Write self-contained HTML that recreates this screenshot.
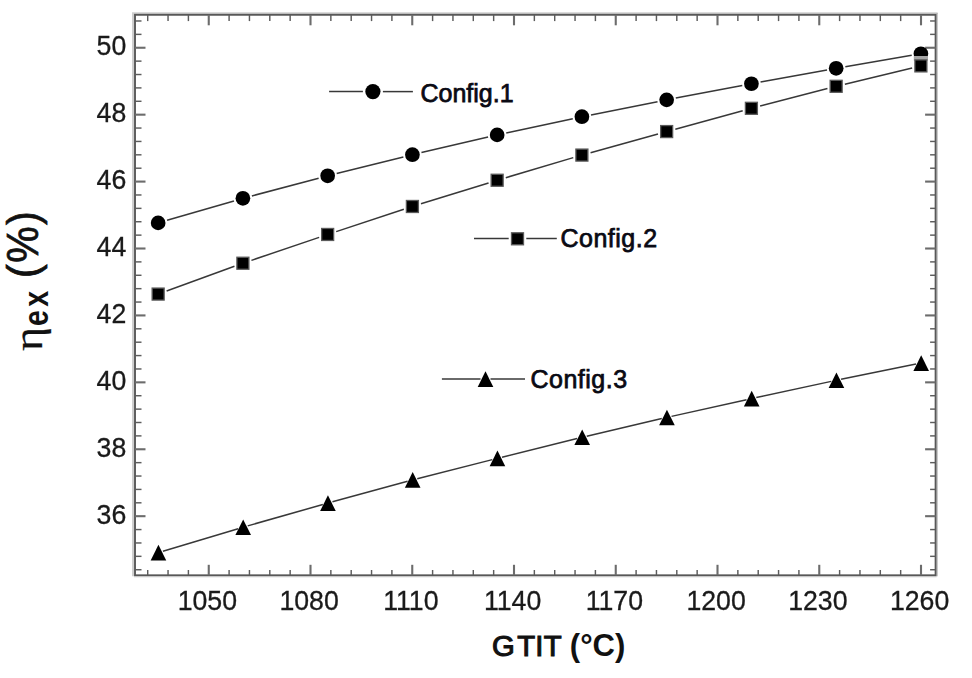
<!DOCTYPE html>
<html><head><meta charset="utf-8"><title>chart</title>
<style>
html,body{margin:0;padding:0;background:#fff;}
body{width:972px;height:678px;position:relative;overflow:hidden;font-family:"Liberation Sans",sans-serif;color:#1a1a1a;}
.yl,.xl{filter:blur(0.4px);-webkit-text-stroke:0.3px #1a1a1a;}
.yl{position:absolute;left:60px;width:66.3px;height:30px;line-height:30px;text-align:right;font-size:26.7px;transform:scaleY(1.05);transform-origin:50% 60%;}
.xl{position:absolute;top:586.3px;width:80px;height:30px;line-height:30px;text-align:center;font-size:26.7px;transform:scaleY(1.05);transform-origin:50% 80%;}
.lg{position:absolute;font-weight:normal;-webkit-text-stroke:0.75px #0a0a14;font-size:25px;line-height:30px;height:30px;white-space:nowrap;color:#0a0a14;}
.xt{position:absolute;font-weight:bold;font-size:31px;line-height:36px;height:36px;white-space:nowrap;color:#111;word-spacing:-0.5px;}
.yt{position:absolute;white-space:nowrap;transform-origin:0 0;font-weight:bold;color:#111;line-height:1;}
</style></head><body>
<svg width="972" height="678" viewBox="0 0 972 678" style="position:absolute;left:0;top:0;filter:blur(0.38px)">
<line x1="133.00" y1="13.00" x2="133.00" y2="576.30" stroke="#cfcfcf" stroke-width="2"/>
<line x1="132.00" y1="13.10" x2="937.60" y2="13.10" stroke="#cfcfcf" stroke-width="1.7"/>
<line x1="937.10" y1="13.00" x2="937.10" y2="576.30" stroke="#a8a8a8" stroke-width="1.0"/>
<line x1="134.00" y1="576.90" x2="936.60" y2="576.90" stroke="#dcdcdc" stroke-width="1"/>
<rect x="135.00" y="14.80" width="800.60" height="560.50" fill="none" stroke="#585858" stroke-width="1.9"/>
<line x1="147.70" y1="575.30" x2="147.70" y2="570.00" stroke="#5c5c5c" stroke-width="1.45"/>
<line x1="147.70" y1="14.80" x2="147.70" y2="21.10" stroke="#5c5c5c" stroke-width="1.45"/>
<line x1="168.05" y1="575.30" x2="168.05" y2="570.00" stroke="#5c5c5c" stroke-width="1.45"/>
<line x1="168.05" y1="14.80" x2="168.05" y2="21.10" stroke="#5c5c5c" stroke-width="1.45"/>
<line x1="188.40" y1="575.30" x2="188.40" y2="570.00" stroke="#5c5c5c" stroke-width="1.45"/>
<line x1="188.40" y1="14.80" x2="188.40" y2="21.10" stroke="#5c5c5c" stroke-width="1.45"/>
<line x1="208.75" y1="575.30" x2="208.75" y2="564.80" stroke="#6c6c6c" stroke-width="2.1"/>
<line x1="208.75" y1="14.80" x2="208.75" y2="25.30" stroke="#6c6c6c" stroke-width="2.1"/>
<line x1="229.10" y1="575.30" x2="229.10" y2="570.00" stroke="#5c5c5c" stroke-width="1.45"/>
<line x1="229.10" y1="14.80" x2="229.10" y2="21.10" stroke="#5c5c5c" stroke-width="1.45"/>
<line x1="249.45" y1="575.30" x2="249.45" y2="570.00" stroke="#5c5c5c" stroke-width="1.45"/>
<line x1="249.45" y1="14.80" x2="249.45" y2="21.10" stroke="#5c5c5c" stroke-width="1.45"/>
<line x1="269.80" y1="575.30" x2="269.80" y2="570.00" stroke="#5c5c5c" stroke-width="1.45"/>
<line x1="269.80" y1="14.80" x2="269.80" y2="21.10" stroke="#5c5c5c" stroke-width="1.45"/>
<line x1="290.15" y1="575.30" x2="290.15" y2="570.00" stroke="#5c5c5c" stroke-width="1.45"/>
<line x1="290.15" y1="14.80" x2="290.15" y2="21.10" stroke="#5c5c5c" stroke-width="1.45"/>
<line x1="310.50" y1="575.30" x2="310.50" y2="564.80" stroke="#6c6c6c" stroke-width="2.1"/>
<line x1="310.50" y1="14.80" x2="310.50" y2="25.30" stroke="#6c6c6c" stroke-width="2.1"/>
<line x1="330.85" y1="575.30" x2="330.85" y2="570.00" stroke="#5c5c5c" stroke-width="1.45"/>
<line x1="330.85" y1="14.80" x2="330.85" y2="21.10" stroke="#5c5c5c" stroke-width="1.45"/>
<line x1="351.20" y1="575.30" x2="351.20" y2="570.00" stroke="#5c5c5c" stroke-width="1.45"/>
<line x1="351.20" y1="14.80" x2="351.20" y2="21.10" stroke="#5c5c5c" stroke-width="1.45"/>
<line x1="371.55" y1="575.30" x2="371.55" y2="570.00" stroke="#5c5c5c" stroke-width="1.45"/>
<line x1="371.55" y1="14.80" x2="371.55" y2="21.10" stroke="#5c5c5c" stroke-width="1.45"/>
<line x1="391.90" y1="575.30" x2="391.90" y2="570.00" stroke="#5c5c5c" stroke-width="1.45"/>
<line x1="391.90" y1="14.80" x2="391.90" y2="21.10" stroke="#5c5c5c" stroke-width="1.45"/>
<line x1="412.25" y1="575.30" x2="412.25" y2="564.80" stroke="#6c6c6c" stroke-width="2.1"/>
<line x1="412.25" y1="14.80" x2="412.25" y2="25.30" stroke="#6c6c6c" stroke-width="2.1"/>
<line x1="432.60" y1="575.30" x2="432.60" y2="570.00" stroke="#5c5c5c" stroke-width="1.45"/>
<line x1="432.60" y1="14.80" x2="432.60" y2="21.10" stroke="#5c5c5c" stroke-width="1.45"/>
<line x1="452.95" y1="575.30" x2="452.95" y2="570.00" stroke="#5c5c5c" stroke-width="1.45"/>
<line x1="452.95" y1="14.80" x2="452.95" y2="21.10" stroke="#5c5c5c" stroke-width="1.45"/>
<line x1="473.30" y1="575.30" x2="473.30" y2="570.00" stroke="#5c5c5c" stroke-width="1.45"/>
<line x1="473.30" y1="14.80" x2="473.30" y2="21.10" stroke="#5c5c5c" stroke-width="1.45"/>
<line x1="493.65" y1="575.30" x2="493.65" y2="570.00" stroke="#5c5c5c" stroke-width="1.45"/>
<line x1="493.65" y1="14.80" x2="493.65" y2="21.10" stroke="#5c5c5c" stroke-width="1.45"/>
<line x1="514.00" y1="575.30" x2="514.00" y2="564.80" stroke="#6c6c6c" stroke-width="2.1"/>
<line x1="514.00" y1="14.80" x2="514.00" y2="25.30" stroke="#6c6c6c" stroke-width="2.1"/>
<line x1="534.35" y1="575.30" x2="534.35" y2="570.00" stroke="#5c5c5c" stroke-width="1.45"/>
<line x1="534.35" y1="14.80" x2="534.35" y2="21.10" stroke="#5c5c5c" stroke-width="1.45"/>
<line x1="554.70" y1="575.30" x2="554.70" y2="570.00" stroke="#5c5c5c" stroke-width="1.45"/>
<line x1="554.70" y1="14.80" x2="554.70" y2="21.10" stroke="#5c5c5c" stroke-width="1.45"/>
<line x1="575.05" y1="575.30" x2="575.05" y2="570.00" stroke="#5c5c5c" stroke-width="1.45"/>
<line x1="575.05" y1="14.80" x2="575.05" y2="21.10" stroke="#5c5c5c" stroke-width="1.45"/>
<line x1="595.40" y1="575.30" x2="595.40" y2="570.00" stroke="#5c5c5c" stroke-width="1.45"/>
<line x1="595.40" y1="14.80" x2="595.40" y2="21.10" stroke="#5c5c5c" stroke-width="1.45"/>
<line x1="615.75" y1="575.30" x2="615.75" y2="564.80" stroke="#6c6c6c" stroke-width="2.1"/>
<line x1="615.75" y1="14.80" x2="615.75" y2="25.30" stroke="#6c6c6c" stroke-width="2.1"/>
<line x1="636.10" y1="575.30" x2="636.10" y2="570.00" stroke="#5c5c5c" stroke-width="1.45"/>
<line x1="636.10" y1="14.80" x2="636.10" y2="21.10" stroke="#5c5c5c" stroke-width="1.45"/>
<line x1="656.45" y1="575.30" x2="656.45" y2="570.00" stroke="#5c5c5c" stroke-width="1.45"/>
<line x1="656.45" y1="14.80" x2="656.45" y2="21.10" stroke="#5c5c5c" stroke-width="1.45"/>
<line x1="676.80" y1="575.30" x2="676.80" y2="570.00" stroke="#5c5c5c" stroke-width="1.45"/>
<line x1="676.80" y1="14.80" x2="676.80" y2="21.10" stroke="#5c5c5c" stroke-width="1.45"/>
<line x1="697.15" y1="575.30" x2="697.15" y2="570.00" stroke="#5c5c5c" stroke-width="1.45"/>
<line x1="697.15" y1="14.80" x2="697.15" y2="21.10" stroke="#5c5c5c" stroke-width="1.45"/>
<line x1="717.50" y1="575.30" x2="717.50" y2="564.80" stroke="#6c6c6c" stroke-width="2.1"/>
<line x1="717.50" y1="14.80" x2="717.50" y2="25.30" stroke="#6c6c6c" stroke-width="2.1"/>
<line x1="737.86" y1="575.30" x2="737.86" y2="570.00" stroke="#5c5c5c" stroke-width="1.45"/>
<line x1="737.86" y1="14.80" x2="737.86" y2="21.10" stroke="#5c5c5c" stroke-width="1.45"/>
<line x1="758.21" y1="575.30" x2="758.21" y2="570.00" stroke="#5c5c5c" stroke-width="1.45"/>
<line x1="758.21" y1="14.80" x2="758.21" y2="21.10" stroke="#5c5c5c" stroke-width="1.45"/>
<line x1="778.56" y1="575.30" x2="778.56" y2="570.00" stroke="#5c5c5c" stroke-width="1.45"/>
<line x1="778.56" y1="14.80" x2="778.56" y2="21.10" stroke="#5c5c5c" stroke-width="1.45"/>
<line x1="798.91" y1="575.30" x2="798.91" y2="570.00" stroke="#5c5c5c" stroke-width="1.45"/>
<line x1="798.91" y1="14.80" x2="798.91" y2="21.10" stroke="#5c5c5c" stroke-width="1.45"/>
<line x1="819.26" y1="575.30" x2="819.26" y2="564.80" stroke="#6c6c6c" stroke-width="2.1"/>
<line x1="819.26" y1="14.80" x2="819.26" y2="25.30" stroke="#6c6c6c" stroke-width="2.1"/>
<line x1="839.61" y1="575.30" x2="839.61" y2="570.00" stroke="#5c5c5c" stroke-width="1.45"/>
<line x1="839.61" y1="14.80" x2="839.61" y2="21.10" stroke="#5c5c5c" stroke-width="1.45"/>
<line x1="859.96" y1="575.30" x2="859.96" y2="570.00" stroke="#5c5c5c" stroke-width="1.45"/>
<line x1="859.96" y1="14.80" x2="859.96" y2="21.10" stroke="#5c5c5c" stroke-width="1.45"/>
<line x1="880.31" y1="575.30" x2="880.31" y2="570.00" stroke="#5c5c5c" stroke-width="1.45"/>
<line x1="880.31" y1="14.80" x2="880.31" y2="21.10" stroke="#5c5c5c" stroke-width="1.45"/>
<line x1="900.66" y1="575.30" x2="900.66" y2="570.00" stroke="#5c5c5c" stroke-width="1.45"/>
<line x1="900.66" y1="14.80" x2="900.66" y2="21.10" stroke="#5c5c5c" stroke-width="1.45"/>
<line x1="921.01" y1="575.30" x2="921.01" y2="564.80" stroke="#6c6c6c" stroke-width="2.1"/>
<line x1="921.01" y1="14.80" x2="921.01" y2="25.30" stroke="#6c6c6c" stroke-width="2.1"/>
<line x1="135.00" y1="20.98" x2="141.50" y2="20.98" stroke="#5c5c5c" stroke-width="1.45"/>
<line x1="935.60" y1="20.98" x2="930.10" y2="20.98" stroke="#5c5c5c" stroke-width="1.45"/>
<line x1="135.00" y1="34.37" x2="141.50" y2="34.37" stroke="#5c5c5c" stroke-width="1.45"/>
<line x1="935.60" y1="34.37" x2="930.10" y2="34.37" stroke="#5c5c5c" stroke-width="1.45"/>
<line x1="135.00" y1="47.75" x2="145.50" y2="47.75" stroke="#6c6c6c" stroke-width="2.1"/>
<line x1="935.60" y1="47.75" x2="925.10" y2="47.75" stroke="#6c6c6c" stroke-width="2.1"/>
<line x1="135.00" y1="61.13" x2="141.50" y2="61.13" stroke="#5c5c5c" stroke-width="1.45"/>
<line x1="935.60" y1="61.13" x2="930.10" y2="61.13" stroke="#5c5c5c" stroke-width="1.45"/>
<line x1="135.00" y1="74.52" x2="141.50" y2="74.52" stroke="#5c5c5c" stroke-width="1.45"/>
<line x1="935.60" y1="74.52" x2="930.10" y2="74.52" stroke="#5c5c5c" stroke-width="1.45"/>
<line x1="135.00" y1="87.90" x2="141.50" y2="87.90" stroke="#5c5c5c" stroke-width="1.45"/>
<line x1="935.60" y1="87.90" x2="930.10" y2="87.90" stroke="#5c5c5c" stroke-width="1.45"/>
<line x1="135.00" y1="101.29" x2="141.50" y2="101.29" stroke="#5c5c5c" stroke-width="1.45"/>
<line x1="935.60" y1="101.29" x2="930.10" y2="101.29" stroke="#5c5c5c" stroke-width="1.45"/>
<line x1="135.00" y1="114.67" x2="145.50" y2="114.67" stroke="#6c6c6c" stroke-width="2.1"/>
<line x1="935.60" y1="114.67" x2="925.10" y2="114.67" stroke="#6c6c6c" stroke-width="2.1"/>
<line x1="135.00" y1="128.05" x2="141.50" y2="128.05" stroke="#5c5c5c" stroke-width="1.45"/>
<line x1="935.60" y1="128.05" x2="930.10" y2="128.05" stroke="#5c5c5c" stroke-width="1.45"/>
<line x1="135.00" y1="141.44" x2="141.50" y2="141.44" stroke="#5c5c5c" stroke-width="1.45"/>
<line x1="935.60" y1="141.44" x2="930.10" y2="141.44" stroke="#5c5c5c" stroke-width="1.45"/>
<line x1="135.00" y1="154.82" x2="141.50" y2="154.82" stroke="#5c5c5c" stroke-width="1.45"/>
<line x1="935.60" y1="154.82" x2="930.10" y2="154.82" stroke="#5c5c5c" stroke-width="1.45"/>
<line x1="135.00" y1="168.21" x2="141.50" y2="168.21" stroke="#5c5c5c" stroke-width="1.45"/>
<line x1="935.60" y1="168.21" x2="930.10" y2="168.21" stroke="#5c5c5c" stroke-width="1.45"/>
<line x1="135.00" y1="181.59" x2="145.50" y2="181.59" stroke="#6c6c6c" stroke-width="2.1"/>
<line x1="935.60" y1="181.59" x2="925.10" y2="181.59" stroke="#6c6c6c" stroke-width="2.1"/>
<line x1="135.00" y1="194.97" x2="141.50" y2="194.97" stroke="#5c5c5c" stroke-width="1.45"/>
<line x1="935.60" y1="194.97" x2="930.10" y2="194.97" stroke="#5c5c5c" stroke-width="1.45"/>
<line x1="135.00" y1="208.36" x2="141.50" y2="208.36" stroke="#5c5c5c" stroke-width="1.45"/>
<line x1="935.60" y1="208.36" x2="930.10" y2="208.36" stroke="#5c5c5c" stroke-width="1.45"/>
<line x1="135.00" y1="221.74" x2="141.50" y2="221.74" stroke="#5c5c5c" stroke-width="1.45"/>
<line x1="935.60" y1="221.74" x2="930.10" y2="221.74" stroke="#5c5c5c" stroke-width="1.45"/>
<line x1="135.00" y1="235.13" x2="141.50" y2="235.13" stroke="#5c5c5c" stroke-width="1.45"/>
<line x1="935.60" y1="235.13" x2="930.10" y2="235.13" stroke="#5c5c5c" stroke-width="1.45"/>
<line x1="135.00" y1="248.51" x2="145.50" y2="248.51" stroke="#6c6c6c" stroke-width="2.1"/>
<line x1="935.60" y1="248.51" x2="925.10" y2="248.51" stroke="#6c6c6c" stroke-width="2.1"/>
<line x1="135.00" y1="261.89" x2="141.50" y2="261.89" stroke="#5c5c5c" stroke-width="1.45"/>
<line x1="935.60" y1="261.89" x2="930.10" y2="261.89" stroke="#5c5c5c" stroke-width="1.45"/>
<line x1="135.00" y1="275.28" x2="141.50" y2="275.28" stroke="#5c5c5c" stroke-width="1.45"/>
<line x1="935.60" y1="275.28" x2="930.10" y2="275.28" stroke="#5c5c5c" stroke-width="1.45"/>
<line x1="135.00" y1="288.66" x2="141.50" y2="288.66" stroke="#5c5c5c" stroke-width="1.45"/>
<line x1="935.60" y1="288.66" x2="930.10" y2="288.66" stroke="#5c5c5c" stroke-width="1.45"/>
<line x1="135.00" y1="302.05" x2="141.50" y2="302.05" stroke="#5c5c5c" stroke-width="1.45"/>
<line x1="935.60" y1="302.05" x2="930.10" y2="302.05" stroke="#5c5c5c" stroke-width="1.45"/>
<line x1="135.00" y1="315.43" x2="145.50" y2="315.43" stroke="#6c6c6c" stroke-width="2.1"/>
<line x1="935.60" y1="315.43" x2="925.10" y2="315.43" stroke="#6c6c6c" stroke-width="2.1"/>
<line x1="135.00" y1="328.81" x2="141.50" y2="328.81" stroke="#5c5c5c" stroke-width="1.45"/>
<line x1="935.60" y1="328.81" x2="930.10" y2="328.81" stroke="#5c5c5c" stroke-width="1.45"/>
<line x1="135.00" y1="342.20" x2="141.50" y2="342.20" stroke="#5c5c5c" stroke-width="1.45"/>
<line x1="935.60" y1="342.20" x2="930.10" y2="342.20" stroke="#5c5c5c" stroke-width="1.45"/>
<line x1="135.00" y1="355.58" x2="141.50" y2="355.58" stroke="#5c5c5c" stroke-width="1.45"/>
<line x1="935.60" y1="355.58" x2="930.10" y2="355.58" stroke="#5c5c5c" stroke-width="1.45"/>
<line x1="135.00" y1="368.97" x2="141.50" y2="368.97" stroke="#5c5c5c" stroke-width="1.45"/>
<line x1="935.60" y1="368.97" x2="930.10" y2="368.97" stroke="#5c5c5c" stroke-width="1.45"/>
<line x1="135.00" y1="382.35" x2="145.50" y2="382.35" stroke="#6c6c6c" stroke-width="2.1"/>
<line x1="935.60" y1="382.35" x2="925.10" y2="382.35" stroke="#6c6c6c" stroke-width="2.1"/>
<line x1="135.00" y1="395.73" x2="141.50" y2="395.73" stroke="#5c5c5c" stroke-width="1.45"/>
<line x1="935.60" y1="395.73" x2="930.10" y2="395.73" stroke="#5c5c5c" stroke-width="1.45"/>
<line x1="135.00" y1="409.12" x2="141.50" y2="409.12" stroke="#5c5c5c" stroke-width="1.45"/>
<line x1="935.60" y1="409.12" x2="930.10" y2="409.12" stroke="#5c5c5c" stroke-width="1.45"/>
<line x1="135.00" y1="422.50" x2="141.50" y2="422.50" stroke="#5c5c5c" stroke-width="1.45"/>
<line x1="935.60" y1="422.50" x2="930.10" y2="422.50" stroke="#5c5c5c" stroke-width="1.45"/>
<line x1="135.00" y1="435.89" x2="141.50" y2="435.89" stroke="#5c5c5c" stroke-width="1.45"/>
<line x1="935.60" y1="435.89" x2="930.10" y2="435.89" stroke="#5c5c5c" stroke-width="1.45"/>
<line x1="135.00" y1="449.27" x2="145.50" y2="449.27" stroke="#6c6c6c" stroke-width="2.1"/>
<line x1="935.60" y1="449.27" x2="925.10" y2="449.27" stroke="#6c6c6c" stroke-width="2.1"/>
<line x1="135.00" y1="462.65" x2="141.50" y2="462.65" stroke="#5c5c5c" stroke-width="1.45"/>
<line x1="935.60" y1="462.65" x2="930.10" y2="462.65" stroke="#5c5c5c" stroke-width="1.45"/>
<line x1="135.00" y1="476.04" x2="141.50" y2="476.04" stroke="#5c5c5c" stroke-width="1.45"/>
<line x1="935.60" y1="476.04" x2="930.10" y2="476.04" stroke="#5c5c5c" stroke-width="1.45"/>
<line x1="135.00" y1="489.42" x2="141.50" y2="489.42" stroke="#5c5c5c" stroke-width="1.45"/>
<line x1="935.60" y1="489.42" x2="930.10" y2="489.42" stroke="#5c5c5c" stroke-width="1.45"/>
<line x1="135.00" y1="502.81" x2="141.50" y2="502.81" stroke="#5c5c5c" stroke-width="1.45"/>
<line x1="935.60" y1="502.81" x2="930.10" y2="502.81" stroke="#5c5c5c" stroke-width="1.45"/>
<line x1="135.00" y1="516.19" x2="145.50" y2="516.19" stroke="#6c6c6c" stroke-width="2.1"/>
<line x1="935.60" y1="516.19" x2="925.10" y2="516.19" stroke="#6c6c6c" stroke-width="2.1"/>
<line x1="135.00" y1="529.57" x2="141.50" y2="529.57" stroke="#5c5c5c" stroke-width="1.45"/>
<line x1="935.60" y1="529.57" x2="930.10" y2="529.57" stroke="#5c5c5c" stroke-width="1.45"/>
<line x1="135.00" y1="542.96" x2="141.50" y2="542.96" stroke="#5c5c5c" stroke-width="1.45"/>
<line x1="935.60" y1="542.96" x2="930.10" y2="542.96" stroke="#5c5c5c" stroke-width="1.45"/>
<line x1="135.00" y1="556.34" x2="141.50" y2="556.34" stroke="#5c5c5c" stroke-width="1.45"/>
<line x1="935.60" y1="556.34" x2="930.10" y2="556.34" stroke="#5c5c5c" stroke-width="1.45"/>
<line x1="135.00" y1="569.73" x2="141.50" y2="569.73" stroke="#5c5c5c" stroke-width="1.45"/>
<line x1="935.60" y1="569.73" x2="930.10" y2="569.73" stroke="#5c5c5c" stroke-width="1.45"/>
<line x1="162.94" y1="551.22" x2="238.11" y2="528.67" stroke="#383838" stroke-width="1.5"/>
<line x1="247.71" y1="525.86" x2="322.84" y2="504.51" stroke="#383838" stroke-width="1.5"/>
<line x1="332.47" y1="501.82" x2="407.58" y2="481.21" stroke="#383838" stroke-width="1.5"/>
<line x1="417.25" y1="478.66" x2="492.30" y2="459.63" stroke="#383838" stroke-width="1.5"/>
<line x1="502.00" y1="457.20" x2="577.05" y2="438.50" stroke="#383838" stroke-width="1.5"/>
<line x1="586.77" y1="436.15" x2="661.78" y2="418.59" stroke="#383838" stroke-width="1.5"/>
<line x1="671.53" y1="416.37" x2="746.52" y2="399.73" stroke="#383838" stroke-width="1.5"/>
<line x1="756.29" y1="397.59" x2="831.26" y2="381.37" stroke="#383838" stroke-width="1.5"/>
<line x1="841.05" y1="379.31" x2="916.00" y2="364.10" stroke="#383838" stroke-width="1.5"/>
<path d="M158.45 544.86 L166.25 560.46 L150.65 560.46 Z" fill="#000"/>
<path d="M243.20 519.43 L251.00 535.03 L235.40 535.03 Z" fill="#000"/>
<path d="M327.95 495.34 L335.75 510.94 L320.15 510.94 Z" fill="#000"/>
<path d="M412.70 472.09 L420.50 487.69 L404.90 487.69 Z" fill="#000"/>
<path d="M497.45 450.60 L505.25 466.20 L489.65 466.20 Z" fill="#000"/>
<path d="M582.20 429.49 L590.00 445.09 L574.40 445.09 Z" fill="#000"/>
<path d="M666.95 409.65 L674.75 425.25 L659.15 425.25 Z" fill="#000"/>
<path d="M751.70 390.85 L759.50 406.45 L743.90 406.45 Z" fill="#000"/>
<path d="M836.45 372.51 L844.25 388.11 L828.65 388.11 Z" fill="#000"/>
<path d="M921.20 355.31 L929.00 370.91 L913.40 370.91 Z" fill="#000"/>
<line x1="167.08" y1="220.32" x2="233.97" y2="200.91" stroke="#383838" stroke-width="1.5"/>
<line x1="251.89" y1="195.93" x2="318.66" y2="178.19" stroke="#383838" stroke-width="1.5"/>
<line x1="336.67" y1="173.55" x2="403.38" y2="156.94" stroke="#383838" stroke-width="1.5"/>
<line x1="421.46" y1="152.57" x2="488.09" y2="137.03" stroke="#383838" stroke-width="1.5"/>
<line x1="506.24" y1="132.96" x2="572.81" y2="118.66" stroke="#383838" stroke-width="1.5"/>
<line x1="591.02" y1="114.90" x2="657.53" y2="101.66" stroke="#383838" stroke-width="1.5"/>
<line x1="675.79" y1="98.11" x2="742.26" y2="85.49" stroke="#383838" stroke-width="1.5"/>
<line x1="760.55" y1="82.08" x2="827.00" y2="69.96" stroke="#383838" stroke-width="1.5"/>
<line x1="845.32" y1="66.72" x2="911.73" y2="55.34" stroke="#383838" stroke-width="1.5"/>
<circle cx="158.15" cy="222.91" r="7.35" fill="#000"/>
<circle cx="242.90" cy="198.32" r="7.35" fill="#000"/>
<circle cx="327.65" cy="175.80" r="7.35" fill="#000"/>
<circle cx="412.40" cy="154.69" r="7.35" fill="#000"/>
<circle cx="497.15" cy="134.91" r="7.35" fill="#000"/>
<circle cx="581.90" cy="116.71" r="7.35" fill="#000"/>
<circle cx="666.65" cy="99.85" r="7.35" fill="#000"/>
<circle cx="751.40" cy="83.75" r="7.35" fill="#000"/>
<circle cx="836.15" cy="68.29" r="7.35" fill="#000"/>
<circle cx="920.90" cy="53.77" r="7.35" fill="#000"/>
<line x1="166.61" y1="291.00" x2="234.44" y2="266.31" stroke="#383838" stroke-width="1.5"/>
<line x1="251.42" y1="260.34" x2="319.13" y2="237.35" stroke="#383838" stroke-width="1.5"/>
<line x1="336.20" y1="231.64" x2="403.85" y2="209.31" stroke="#383838" stroke-width="1.5"/>
<line x1="421.00" y1="203.82" x2="488.55" y2="182.91" stroke="#383838" stroke-width="1.5"/>
<line x1="505.78" y1="177.69" x2="573.27" y2="157.65" stroke="#383838" stroke-width="1.5"/>
<line x1="590.57" y1="152.68" x2="657.98" y2="133.97" stroke="#383838" stroke-width="1.5"/>
<line x1="675.33" y1="129.19" x2="742.72" y2="110.69" stroke="#383838" stroke-width="1.5"/>
<line x1="760.11" y1="106.05" x2="827.44" y2="88.56" stroke="#383838" stroke-width="1.5"/>
<line x1="844.90" y1="84.19" x2="912.15" y2="67.99" stroke="#383838" stroke-width="1.5"/>
<rect x="913.80" y="56.0" width="14.2" height="4.6" fill="#a4a4a4"/>
<rect x="152.15" y="288.08" width="12.0" height="12.0" fill="#000" stroke="#5a5a5a" stroke-width="1.3"/>
<rect x="236.90" y="257.23" width="12.0" height="12.0" fill="#000" stroke="#5a5a5a" stroke-width="1.3"/>
<rect x="321.65" y="228.46" width="12.0" height="12.0" fill="#000" stroke="#5a5a5a" stroke-width="1.3"/>
<rect x="406.40" y="200.48" width="12.0" height="12.0" fill="#000" stroke="#5a5a5a" stroke-width="1.3"/>
<rect x="491.15" y="174.25" width="12.0" height="12.0" fill="#000" stroke="#5a5a5a" stroke-width="1.3"/>
<rect x="575.90" y="149.09" width="12.0" height="12.0" fill="#000" stroke="#5a5a5a" stroke-width="1.3"/>
<rect x="660.65" y="125.57" width="12.0" height="12.0" fill="#000" stroke="#5a5a5a" stroke-width="1.3"/>
<rect x="745.40" y="102.31" width="12.0" height="12.0" fill="#000" stroke="#5a5a5a" stroke-width="1.3"/>
<rect x="830.15" y="80.30" width="12.0" height="12.0" fill="#000" stroke="#5a5a5a" stroke-width="1.3"/>
<rect x="914.90" y="59.89" width="12.0" height="12.0" fill="#000" stroke="#5a5a5a" stroke-width="1.3"/>
<line x1="329.1" y1="91.6" x2="362.9" y2="91.6" stroke="#383838" stroke-width="1.5"/>
<line x1="382.9" y1="91.6" x2="412.9" y2="91.6" stroke="#383838" stroke-width="1.5"/>
<circle cx="372.90" cy="91.60" r="7.6" fill="#000"/>
<line x1="474.0" y1="238.5" x2="508.7" y2="238.5" stroke="#383838" stroke-width="1.5"/>
<line x1="526.3" y1="238.5" x2="556.8" y2="238.5" stroke="#383838" stroke-width="1.5"/>
<rect x="511.50" y="232.80" width="12.0" height="12.0" fill="#000" stroke="#5a5a5a" stroke-width="1.3"/>
<line x1="441.9" y1="378.9" x2="480.5" y2="378.9" stroke="#383838" stroke-width="1.5"/>
<line x1="490.5" y1="378.9" x2="525.0" y2="378.9" stroke="#383838" stroke-width="1.5"/>
<path d="M485.50 371.30 L493.30 386.90 L477.70 386.90 Z" fill="#000"/>
</svg>
<div class="yl" style="top:499.59px">36</div>
<div class="yl" style="top:432.67px">38</div>
<div class="yl" style="top:365.75px">40</div>
<div class="yl" style="top:298.83px">42</div>
<div class="yl" style="top:231.91px">44</div>
<div class="yl" style="top:164.99px">46</div>
<div class="yl" style="top:98.07px">48</div>
<div class="yl" style="top:31.15px">50</div>
<div class="xl" style="left:167.35px">1050</div>
<div class="xl" style="left:269.10px">1080</div>
<div class="xl" style="left:370.85px">1110</div>
<div class="xl" style="left:472.60px">1140</div>
<div class="xl" style="left:574.35px">1170</div>
<div class="xl" style="left:676.11px">1200</div>
<div class="xl" style="left:777.86px">1230</div>
<div class="xl" style="left:879.61px">1260</div>
<div class="lg" style="left:420.5px;top:77.5px;letter-spacing:0px">Config.1</div>
<div class="lg" style="left:560.5px;top:223px;letter-spacing:0.5px">Config.2</div>
<div class="lg" style="left:530.5px;top:364.3px;letter-spacing:0.5px">Config.3</div>
<div class="xt" style="left:492px;top:628px"><span style="font-size:29.3px;font-weight:normal;-webkit-text-stroke:1.1px #111;letter-spacing:0.2px"><span style="letter-spacing:2.4px">G</span>TIT</span> (°C)</div>
<div class="yt" id="yt1" style="left:1.5px;top:277.7px;font-size:41px;font-weight:normal;-webkit-text-stroke:0.7px #111;letter-spacing:1.5px;transform:rotate(-90deg) scale(1,1.06)">(%)</div>
<div class="yt" id="yt2" style="left:19px;top:325.5px;font-size:28.5px;letter-spacing:3.3px;transform:rotate(-90deg) scale(1,1.21)">ex</div>
<div class="yt" id="yt3" style="left:9.15px;top:350.6px;font-size:44px;font-weight:normal;font-family:'Liberation Serif',serif;-webkit-text-stroke:0.25px #111;transform:rotate(-90deg) scale(1.05,0.927)">η</div>
</body></html>
